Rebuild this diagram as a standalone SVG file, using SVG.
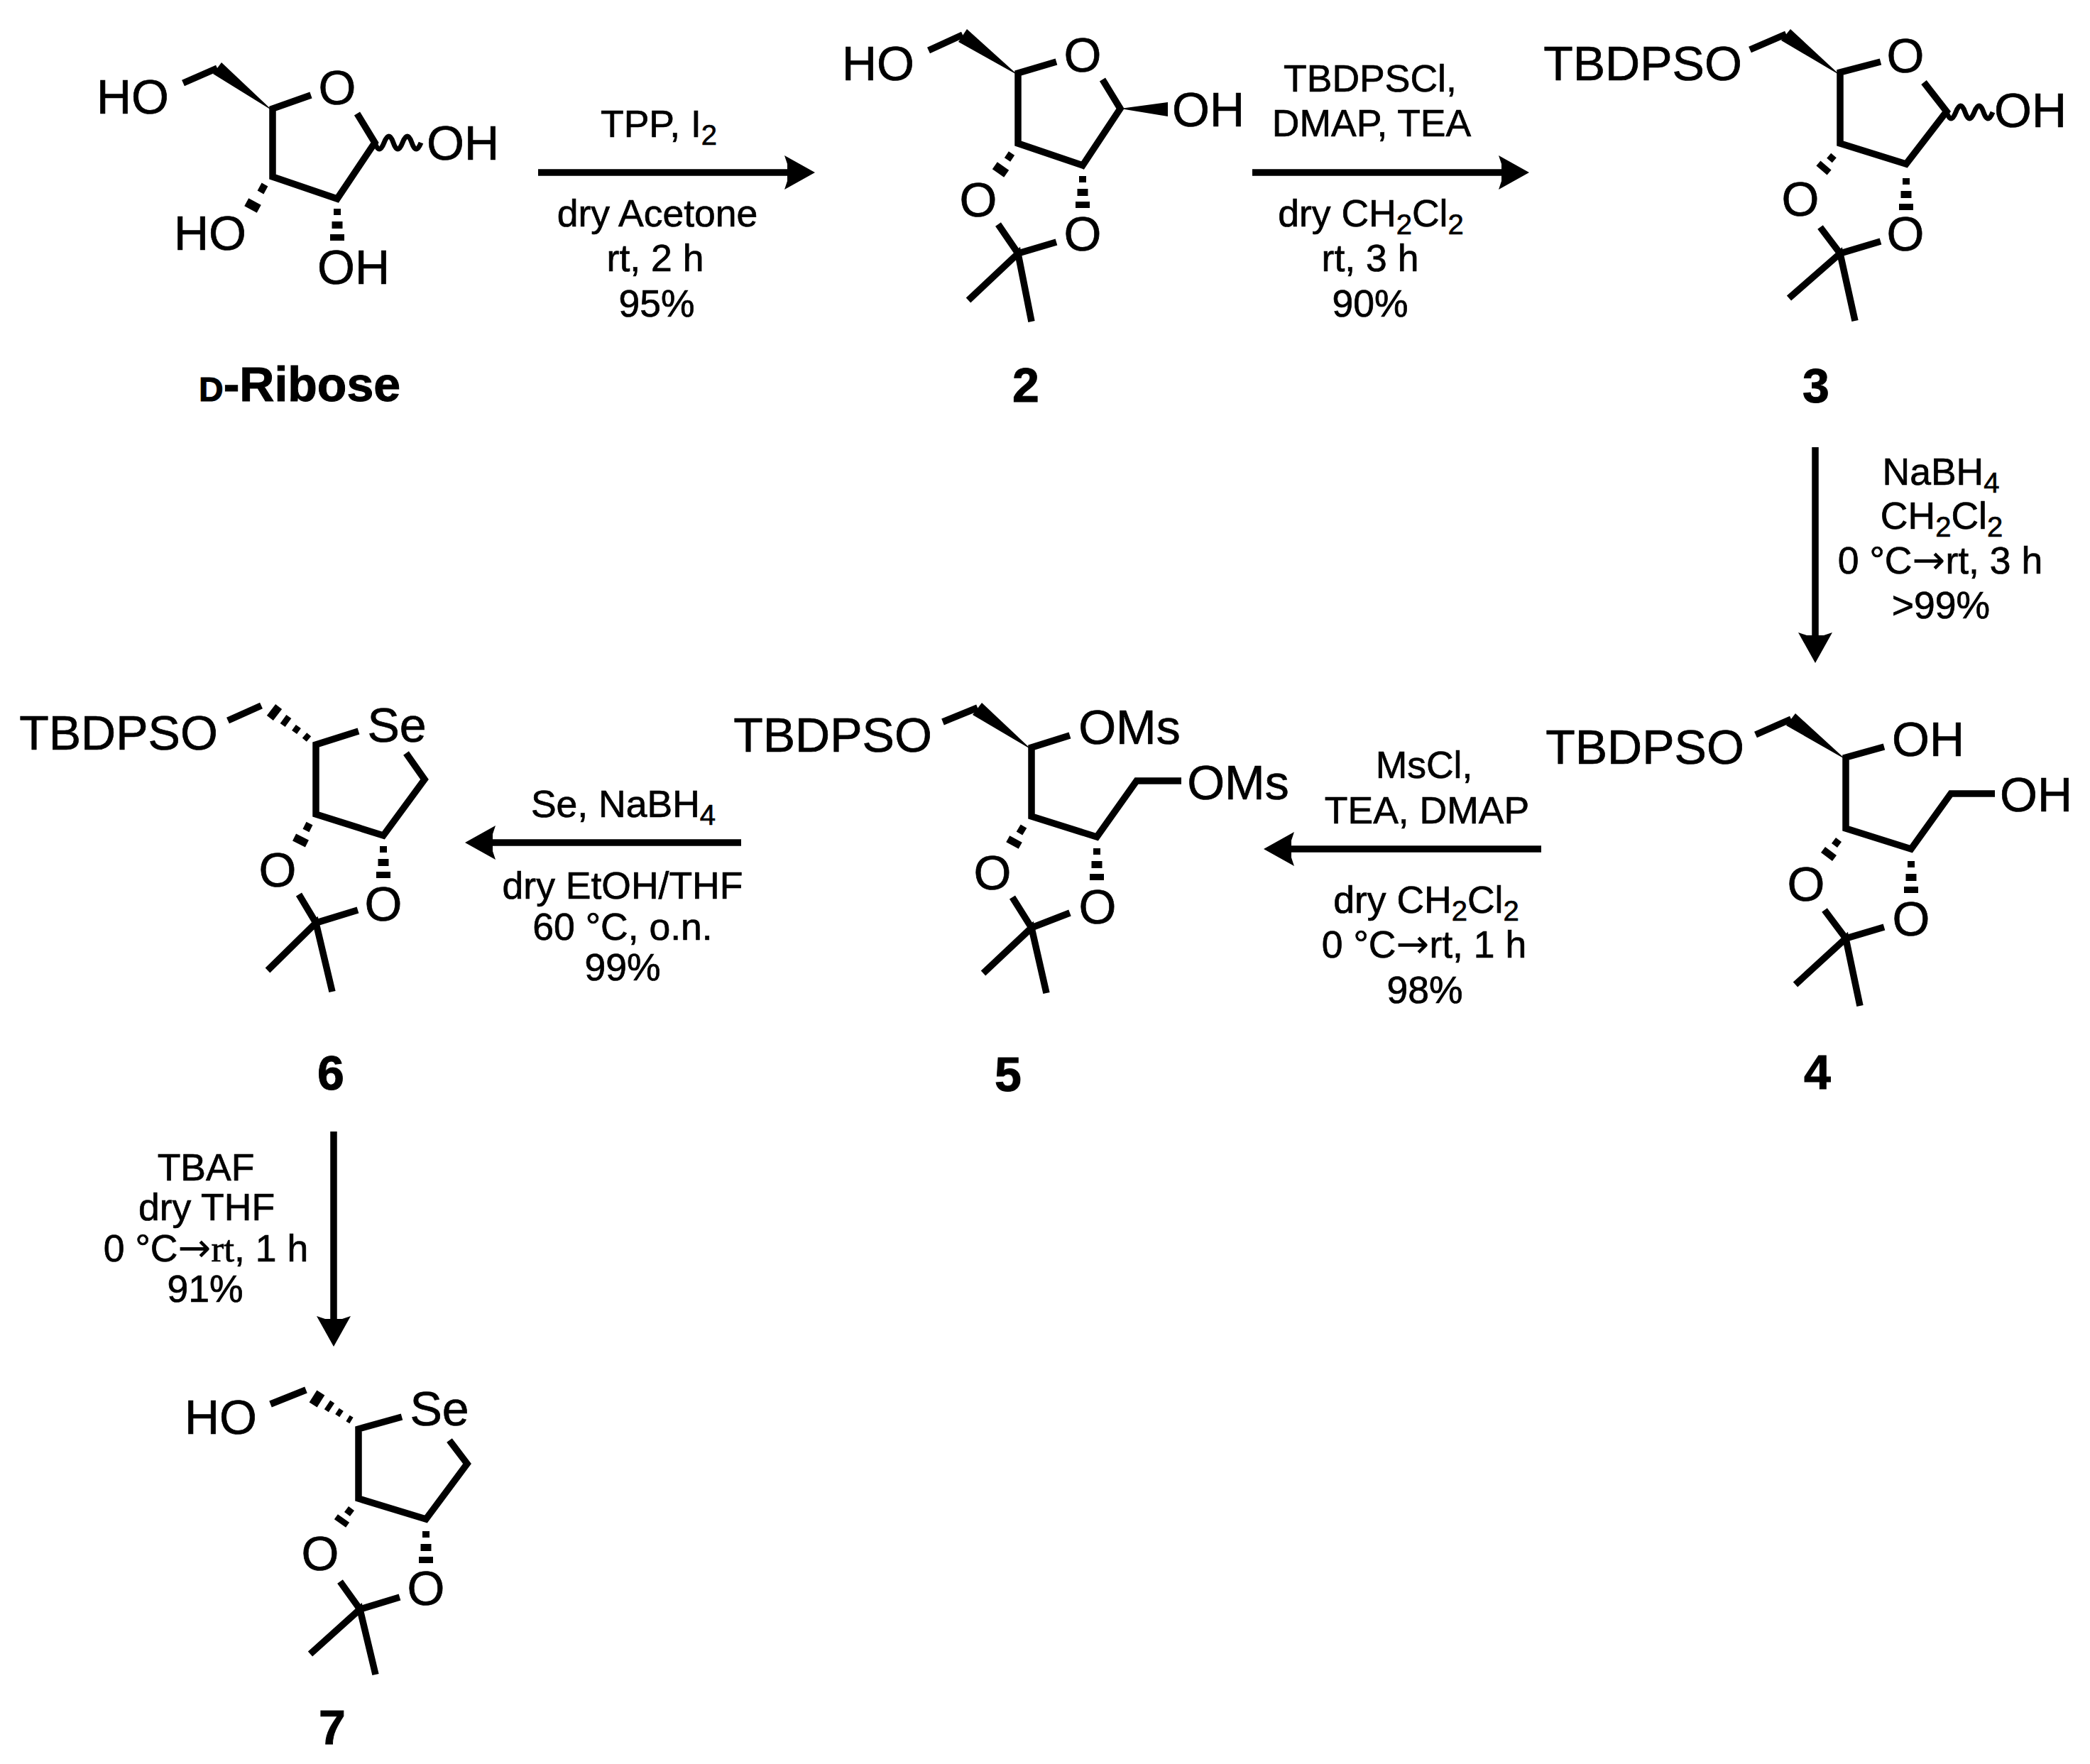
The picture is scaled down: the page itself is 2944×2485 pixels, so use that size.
<svg xmlns="http://www.w3.org/2000/svg" xmlns:xlink="http://www.w3.org/1999/xlink" width="2944" height="2485" viewBox="0 0 2944 2485">
<style>
text{font-family:"Liberation Sans",Arial,sans-serif;fill:#000;stroke:#000;stroke-width:.7;text-anchor:middle}
.a{font-size:68px}
.r{font-size:53.5px}
.l{font-size:68px;font-weight:bold;stroke-width:1}
.sc{font-size:48px}
.sub{font-size:40px}
.serif{font-family:"Liberation Serif",serif}
.arw{font-family:"DejaVu Sans",sans-serif;font-size:56px;stroke-width:0}
.b{fill:none;stroke:#000;stroke-width:9.5;stroke-linejoin:miter;stroke-miterlimit:6}
.w{fill:#000;stroke:none}
.z{fill:none;stroke:#000;stroke-width:7}
.h1,.h2,.h3,.h4{stroke:#000;fill:none}
.h1{stroke-width:10}.h2{stroke-width:15}.h3{stroke-width:20}.h4{stroke-width:23}
.arrow{stroke:#000;stroke-width:9.5;fill:none}
</style>
<defs>
<marker id="ah" markerUnits="userSpaceOnUse" markerWidth="46" markerHeight="50" refX="10" refY="25" orient="auto">
<path d="M43 25L0 1L4 13V37L0 49Z" fill="#000"/>
</marker>
<g id="hash"><line class="h1" x1="0" y1="0" x2="0" y2="9"/><line class="h2" x1="0" y1="18" x2="0" y2="28"/><line class="h3" x1="0" y1="36" x2="0" y2="45"/></g>
<path id="wavy" class="z" d="M0 0Q6 18 13 0T26 0T39 0T52 0T65 0"/>
</defs>

<g id="connectors">
<line class="arrow" x1="758" y1="243" x2="1115" y2="243" marker-end="url(#ah)"/>
<line class="arrow" x1="1764" y1="243" x2="2121" y2="243" marker-end="url(#ah)"/>
<line class="arrow" x1="2557" y1="630" x2="2557" y2="901" marker-end="url(#ah)"/>
<line class="arrow" x1="2171" y1="1196" x2="1813" y2="1196" marker-end="url(#ah)"/>
<line class="arrow" x1="1044" y1="1187" x2="688" y2="1187" marker-end="url(#ah)"/>
<line class="arrow" x1="470" y1="1594" x2="470" y2="1864" marker-end="url(#ah)"/>
</g>

<g id="d-ribose">
<path class="b" d="M438 134L384 153V249L475 280L528 201L503 160"/>
<path class="b" d="M258 117L306 96"/>
<polygon class="w" points="384,156 312,88 300,104"/>
<use xlink:href="#wavy" href="#wavy" x="528" y="201"/>
<line class="h1" x1="373" y1="260" x2="367" y2="271"/><line class="h3" x1="359" y1="284" x2="353" y2="295"/>
<use xlink:href="#hash" href="#hash" x="475" y="294"/>
<text class="a" x="187" y="160">HO</text><text class="a" x="475" y="147">O</text><text class="a" x="652" y="225">OH</text><text class="a" x="296" y="352">HO</text><text class="a" x="498" y="400">OH</text>
<text class="l" x="422" y="565"><tspan class="sc">D</tspan>-Ribose</text>
</g>

<g id="compound-2">
<path class="b" d="M1488 87L1434 103V202L1525 233L1578 153L1553 112"/>
<path class="b" d="M1308 71L1356 49"/>
<polygon class="w" points="1434,106 1362,41 1350,59"/>
<polygon class="w" points="1578,153 1645,144 1645,164"/>
<line class="h1" x1="1425" y1="216" x2="1419" y2="225"/><line class="h3" x1="1413" y1="234" x2="1406" y2="244"/>
<use xlink:href="#hash" href="#hash" x="1525" y="248"/>
<path class="b" d="M1406 316L1434 357L1488 341"/>
<path class="b" d="M1364 423L1434 357L1453 453"/>
<text class="a" x="1237" y="113">HO</text><text class="a" x="1525" y="101">O</text><text class="a" x="1702" y="178">OH</text><text class="a" x="1378" y="305">O</text><text class="a" x="1525" y="353">O</text>
<text class="l" x="1445" y="566">2</text>
</g>

<g id="compound-3">
<path class="b" d="M2649 87L2592 102V202L2685 231L2742 157L2710 116"/>
<path class="b" d="M2465 70L2516 48"/>
<polygon class="w" points="2592,106 2522,41 2509,57"/>
<use xlink:href="#wavy" href="#wavy" x="2742" y="158"/>
<line class="h1" x1="2583" y1="219" x2="2577" y2="226"/><line class="h3" x1="2572" y1="233" x2="2566" y2="240"/>
<use xlink:href="#hash" href="#hash" x="2685" y="251"/>
<path class="b" d="M2564 320L2592 357L2649 340"/>
<path class="b" d="M2520 420L2592 357L2613 452"/>
<text class="a" x="2314" y="113">TBDPSO</text><text class="a" x="2684" y="102">O</text><text class="a" x="2860" y="179">OH</text><text class="a" x="2536" y="304">O</text><text class="a" x="2684" y="353">O</text>
<text class="l" x="2558" y="567">3</text>
</g>

<g id="compound-4">
<path class="b" d="M2654 1052L2600 1067V1167L2692 1196L2748 1118H2810"/>
<path class="b" d="M2473 1035L2523 1013"/>
<polygon class="w" points="2600,1070 2529,1005 2516,1022"/>
<line class="h1" x1="2590" y1="1183" x2="2584" y2="1191"/><line class="h3" x1="2579" y1="1199" x2="2573" y2="1207"/>
<use xlink:href="#hash" href="#hash" x="2692" y="1213"/>
<path class="b" d="M2570 1282L2600 1322L2654 1306"/>
<path class="b" d="M2529 1387L2600 1322L2620 1417"/>
<text class="a" x="2317" y="1076">TBDPSO</text><text class="a" x="2716" y="1065">OH</text><text class="a" x="2868" y="1143">OH</text><text class="a" x="2544" y="1269">O</text><text class="a" x="2692" y="1318">O</text>
<text class="l" x="2560" y="1534">4</text>
</g>

<g id="compound-5">
<path class="b" d="M1507 1036L1453 1053V1150L1545 1179L1601 1100H1664"/>
<path class="b" d="M1328 1017L1377 997"/>
<polygon class="w" points="1453,1056 1383,990 1370,1007"/>
<line class="h1" x1="1442" y1="1164" x2="1436" y2="1174"/><line class="h3" x1="1431" y1="1182" x2="1426" y2="1191"/>
<use xlink:href="#hash" href="#hash" x="1545" y="1195"/>
<path class="b" d="M1426 1264L1453 1307L1507 1286"/>
<path class="b" d="M1385 1371L1453 1307L1474 1399"/>
<text class="a" x="1173" y="1059">TBDPSO</text><text class="a" x="1591" y="1048">OMs</text><text class="a" x="1744" y="1126">OMs</text><text class="a" x="1398" y="1253">O</text><text class="a" x="1546" y="1301">O</text>
<text class="l" x="1420" y="1537">5</text>
</g>

<g id="compound-6">
<path class="b" d="M505 1030L445 1049V1147L540 1177L598 1098L572 1061"/>
<path class="b" d="M321 1015L368 994"/>
<line class="h1" x1="435" y1="1041" x2="429" y2="1036"/><line class="h1" x1="421" y1="1030" x2="414" y2="1025"/><line class="h2" x1="406" y1="1018" x2="399" y2="1013"/><line class="h3" x1="391" y1="1007" x2="382" y2="1000"/>
<line class="h1" x1="436" y1="1160" x2="431" y2="1170"/><line class="h3" x1="426" y1="1179" x2="421" y2="1189"/>
<use xlink:href="#hash" href="#hash" x="540" y="1192"/>
<path class="b" d="M421 1260L445 1300L504 1282"/>
<path class="b" d="M377 1367L445 1300L468 1397"/>
<text class="a" x="167" y="1056">TBDPSO</text><text class="a" x="559" y="1045">Se</text><text class="a" x="391" y="1249">O</text><text class="a" x="540" y="1297">O</text>
<text class="l" x="466" y="1535">6</text>
</g>

<g id="compound-7">
<path class="b" d="M566 1996L505 2013V2111L600 2140L658 2062L633 2029"/>
<path class="b" d="M381 1978L431 1958"/>
<line class="h1" x1="495" y1="2001" x2="490" y2="1998"/><line class="h1" x1="481" y1="1992" x2="475" y2="1988"/><line class="h2" x1="467" y1="1983" x2="461" y2="1979"/><line class="h3" x1="452" y1="1974" x2="441" y2="1967"/>
<line class="h1" x1="495" y1="2125" x2="489" y2="2133"/><line class="h3" x1="484" y1="2139" x2="479" y2="2146"/>
<use xlink:href="#hash" href="#hash" x="600" y="2157"/>
<path class="b" d="M479 2228L507 2267L563 2250"/>
<path class="b" d="M437 2330L507 2267L529 2359"/>
<text class="a" x="311" y="2020">HO</text><text class="a" x="619" y="2008">Se</text><text class="a" x="451" y="2212">O</text><text class="a" x="600" y="2261">O</text>
<text class="l" x="468" y="2457">7</text>
</g>

<g id="reagents-1">
<text class="r" x="928" y="193">TPP, I<tspan class="sub" dy="11">2</tspan></text>
<text class="r" x="926" y="319">dry Acetone</text>
<text class="r" x="923" y="382">rt, 2 h</text>
<text class="r" x="925" y="446">95%</text>
</g>
<g id="reagents-2">
<text class="r" x="1930" y="129">TBDPSCl,</text>
<text class="r" x="1932" y="192">DMAP, TEA</text>
<text class="r" x="1931" y="319">dry CH<tspan class="sub" dy="11">2</tspan><tspan dy="-11">Cl</tspan><tspan class="sub" dy="11">2</tspan></text>
<text class="r" x="1930" y="382">rt, 3 h</text>
<text class="r" x="1930" y="446">90%</text>
</g>
<g id="reagents-3">
<text class="r" x="2734" y="683">NaBH<tspan class="sub" dy="11">4</tspan></text>
<text class="r" x="2735" y="745">CH<tspan class="sub" dy="11">2</tspan><tspan dy="-11">Cl</tspan><tspan class="sub" dy="11">2</tspan></text>
<text class="r" x="2733" y="808">0 °C<tspan class="arw">→</tspan>rt, 3 h</text>
<text class="r" x="2734" y="871">&gt;99%</text>
</g>
<g id="reagents-4">
<text class="r" x="2006" y="1096">MsCl,</text>
<text class="r" x="2010" y="1160">TEA, DMAP</text>
<text class="r" x="2009" y="1286">dry CH<tspan class="sub" dy="11">2</tspan><tspan dy="-11">Cl</tspan><tspan class="sub" dy="11">2</tspan></text>
<text class="r" x="2006" y="1349">0 °C<tspan class="arw">→</tspan>rt, 1 h</text>
<text class="r" x="2007" y="1413">98%</text>
</g>
<g id="reagents-5">
<text class="r" x="878" y="1151">Se, NaBH<tspan class="sub" dy="11">4</tspan></text>
<text class="r" x="877" y="1266">dry EtOH/THF</text>
<text class="r" x="877" y="1324">60 °C, o.n.</text>
<text class="r" x="877" y="1381">99%</text>
</g>
<g id="reagents-6">
<text class="r" x="290" y="1663">TBAF</text>
<text class="r" x="291" y="1719">dry THF</text>
<text class="r" x="290" y="1777">0 °C<tspan class="arw">→</tspan><tspan class="serif">rt</tspan>, 1 h</text>
<text class="r" x="289" y="1834">91%</text>
</g>
</svg>
